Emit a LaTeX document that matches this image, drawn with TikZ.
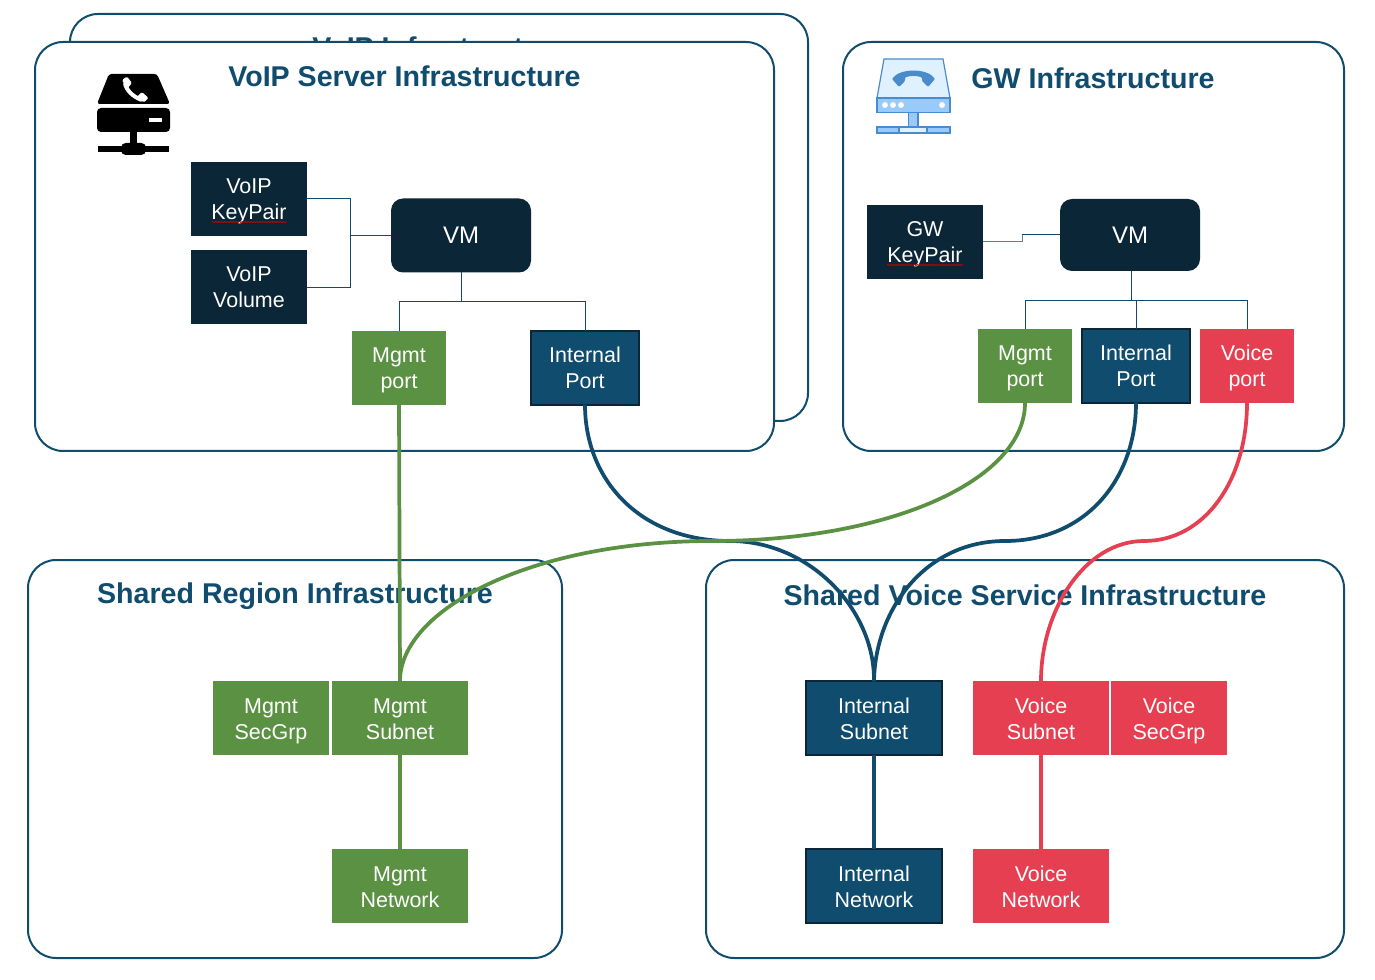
\documentclass[tikz,border=0pt]{standalone}
\usepackage{fontspec}
\setmainfont{Liberation Sans}
\usetikzlibrary{decorations.pathmorphing}
\definecolor{navy}{HTML}{0A2637}
\definecolor{deep}{HTML}{0F4C6E}
\definecolor{grn}{HTML}{5A9142}
\definecolor{rd}{HTML}{E63F51}
\definecolor{iconblue}{HTML}{4A8CCB}
\definecolor{iconmid}{HTML}{99CBFA}
\definecolor{iconpale}{HTML}{DFF0FE}
\newcommand{\boxtext}[2]{\rule{0pt}{16pt}#1\\#2\rule[-4pt]{0pt}{4pt}}
\tikzset{
 x=0.75pt,y=-0.75pt,
 area/.style={draw=deep,line width=1.5pt,fill=white,rounded corners=21pt},
 title/.style={font=\bfseries\fontsize{21.45}{26}\selectfont,text=deep,inner sep=0pt,anchor=base},
 basebox/.style={inner sep=0pt,outer sep=0pt,align=center,text=white,font=\fontsize{16.1}{19.5}\selectfont,
   minimum height=55.5pt},
 box/.style={basebox},
 navybox/.style={box,fill=navy,minimum width=87pt},
 vmbox/.style={basebox,fill=navy,rounded corners=9pt,minimum width=105pt,font=\fontsize{18}{21}\selectfont},
 greenbox/.style={box,fill=grn},
 redbox/.style={box,fill=rd},
 bluebox/.style={box,fill=deep,draw=navy,line width=1.5pt},
 thin link/.style={draw=deep,line width=0.75pt},
 greenlink/.style={draw=grn,line width=2.8pt},
 bluelink/.style={draw=deep,line width=2.8pt},
 redlink/.style={draw=rd,line width=2.8pt},
 squiggle/.style={draw=red!80!black,line width=0.55pt,decorate,decoration={snake,amplitude=0.5pt,segment length=2.2pt}},
}
\begin{document}
\begin{tikzpicture}
\useasboundingbox (0,0) rectangle (1375,980);
\fill[white] (0,0) rectangle (1375,980);
% areas
\draw[area] (70,14) rectangle (808,421);
\node[title] (backtitle) at (440,58) {VoIP Infrastructure};
\draw[area] (35,42) rectangle (774,451);
\draw[area] (843,42) rectangle (1344,451);
\draw[area] (28,560) rectangle (562,958);
\draw[area] (706,560) rectangle (1344,958);
\node[title] (t1) at (404.5,86.5) {VoIP Server Infrastructure};
\node[title] (t2) at (1093,88.5) {GW Infrastructure};
\node[title] (t3) at (295,603) {Shared Region Infrastructure};
\node[title] (t4) at (1025,605) {Shared Voice Service Infrastructure};
% black server icon
\fill[black,rounded corners=2pt] (97,104) -- (109,74) -- (157,74) -- (170,104) -- cycle;
\fill[black,rounded corners=3pt] (97,108) rectangle (170,132);
\fill[black] (130,132) rectangle (137,146);
\fill[black] (98,146) rectangle (169,152);
\fill[black,rounded corners=3.5pt] (121,143) rectangle (146,155);
\fill[white] (148.5,118.5) rectangle (162,122);
\draw[white,line width=3pt] (125,83) .. controls (126,90) and (133,97) .. (142,100);
\fill[white,rounded corners=1pt] (122,80) -- (127,76.5) -- (132,83) -- (127,89) -- cycle;
\fill[white,rounded corners=1pt] (137,97) -- (142,92) -- (148.5,98) -- (144,102.5) -- cycle;
% blue gateway icon
\begin{scope}[draw=iconblue,line width=0.9pt]
\filldraw[fill=iconpale] (884,59) -- (943,59) -- (950,98) -- (877,98) -- cycle;
\filldraw[fill=iconmid] (877,98) rectangle (950,112.5);
\filldraw[fill=iconmid] (908.5,112.5) rectangle (918,127);
\filldraw[fill=iconmid] (877,127) rectangle (950,133);
\filldraw[fill=iconpale] (899,127) rectangle (927,133);
\end{scope}
\fill[iconblue,rounded corners=0.8pt] (892,79) .. controls (900,68) and (927,68) .. (935,79) -- (928,87) -- (922,81) -- (922,77.5) .. controls (917,75.5) and (910,75.5) .. (905,77.5) -- (905,81) -- (899,87) -- cycle;
\foreach \cx in {885,893,901,942} \fill[white] (\cx,105) circle (2.2pt);
% coordinates for junctions
\coordinate (volbus) at (350,235.5);
\coordinate (vmbus) at (461,302);
\coordinate (gwbus) at (1131,301);
\coordinate (gwjog) at (1022,235);
% nodes
\node[navybox] (vkp) at (249,199) {\boxtext{VoIP}{KeyPair}};
\node[navybox] (vvol) at (249,287) {\boxtext{VoIP}{Volume}};
\node[vmbox] (vm1) at (461,235.5) {VM};
\node[greenbox,minimum width=70.5pt] (mp1) at (399,368) {\boxtext{Mgmt}{port}};
\node[bluebox,minimum width=81pt,minimum height=55pt] (ip1) at (585,368) {\boxtext{Internal}{Port}};
\node[navybox] (gkp) at (925,242) {\boxtext{GW}{KeyPair}};
\node[vmbox,minimum height=54pt] (vm2) at (1130,235) {VM};
\node[greenbox,minimum width=70.5pt] (mp2) at (1025,366) {\boxtext{Mgmt}{port}};
\node[bluebox,minimum width=81pt,minimum height=55pt] (ip2) at (1136,366) {\boxtext{Internal}{Port}};
\node[redbox,minimum width=70.5pt] (vp) at (1247,366) {\boxtext{Voice}{port}};
\node[greenbox,minimum width=87pt] (msg) at (271,718) {\boxtext{Mgmt}{SecGrp}};
\node[greenbox,minimum width=102pt] (msn) at (400,718) {\boxtext{Mgmt}{Subnet}};
\node[greenbox,minimum width=102pt] (mnw) at (400,886) {\boxtext{Mgmt}{Network}};
\node[bluebox,minimum width=102pt,minimum height=55pt] (isn) at (874,718) {\boxtext{Internal}{Subnet}};
\node[bluebox,minimum width=102pt,minimum height=55pt] (inw) at (874,886) {\boxtext{Internal}{Network}};
\node[redbox,minimum width=102pt] (vsn) at (1041,718) {\boxtext{Voice}{Subnet}};
\node[redbox,minimum width=87pt] (vsg) at (1169,718) {\boxtext{Voice}{SecGrp}};
\node[redbox,minimum width=102pt] (vnw) at (1041,886) {\boxtext{Voice}{Network}};
% spell-check marks
\draw[squiggle] (212,222) -- (287,222);
\draw[squiggle] (887,265) -- (963,265);
% thin connectors
\draw[thin link] (vkp.east |- 0,199) -| (volbus) -- (vm1.west);
\draw[thin link] (vvol.east |- 0,288) -| (volbus);
\draw[thin link] (vm1.south) -- (vmbus);
\draw[thin link] (vmbus) -| (mp1.north);
\draw[thin link] (vmbus) -| (ip1.north);
\draw[thin link,draw=deep!70] (gkp.east |- 0,242) -| (gwjog);
\draw[thin link] (gwjog) -- (vm2.west);
\draw[thin link] (vm2.south -| gwbus) -- (gwbus);
\draw[thin link] (gwbus) -| (mp2.north);
\draw[thin link] (gwbus) -| (ip2.north);
\draw[thin link] (gwbus) -| (vp.north);
% thick connectors
\draw[greenlink] (mp1.south) -- (msn.north);
\draw[greenlink] (msn.south) -- (mnw.north);
\draw[bluelink] (isn.south) -- (inw.north);
\draw[redlink] (vsn.south) -- (vnw.north);
\draw[bluelink] (ip1.south) .. controls (585,480) and (640,541) .. (730,541) .. controls (810,541) and (875,610) .. (isn.north);
\draw[greenlink] (mp2.south) .. controls (1025,480) and (890,541) .. (712,541) .. controls (530,541) and (400,610) .. (msn.north);
\draw[bluelink] (ip2.south) .. controls (1136,480) and (1085,541) .. (1005,541) .. controls (925,541) and (875,610) .. (isn.north);
\draw[redlink] (vp.south) .. controls (1247,480) and (1205,541) .. (1144,541) .. controls (1085,541) and (1041,610) .. (vsn.north);
\end{tikzpicture}
\end{document}
